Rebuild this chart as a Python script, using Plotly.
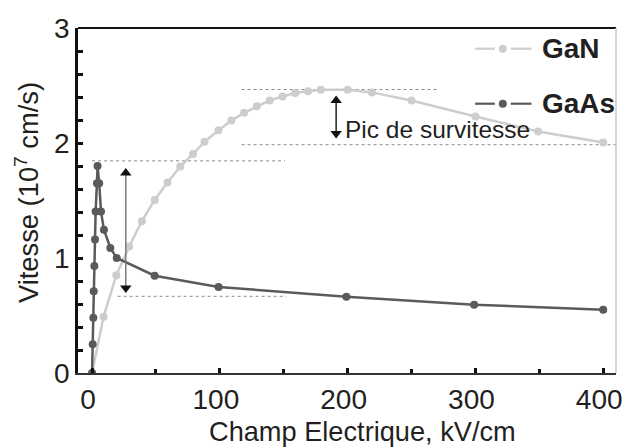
import plotly.graph_objects as go

# ---- data ----
gan_field = [0, 9, 19, 29, 39, 49, 59, 69, 79, 88, 99, 109, 119, 129, 139, 149,
             159, 169, 179, 200, 219, 250, 300, 349, 400]
gan_vel = [0, 0.49, 0.85, 1.10, 1.32, 1.505, 1.657, 1.795, 1.905, 2.01, 2.11, 2.195,
           2.263, 2.32, 2.37, 2.405, 2.435, 2.45, 2.463, 2.463, 2.44, 2.37, 2.23, 2.10, 2.005]

gaas_field = [0, 0.5, 1.0, 1.3, 1.8, 2.3, 2.8, 3.8, 4.3, 5.6, 7.0, 9.3, 14.3, 19.3,
              49, 99, 199, 299, 400]
gaas_vel = [0, 0.25, 0.48, 0.71, 0.93, 1.16, 1.405, 1.65, 1.80, 1.65, 1.405, 1.246,
            1.087, 1.0, 0.846, 0.748, 0.663, 0.594, 0.55]

# dotted reference lines: (x start, x end, y)
ref_x0 = [117, 117, 0, 20]
ref_x1 = [271, 410, 151, 152]
ref_y = [2.465, 1.985, 1.845, 0.667]

# double arrows: x, y low tip, y high tip
arrow_x = [26.4, 191]
arrow_ylo = [0.70, 2.043]
arrow_yhi = [1.78, 2.41]
arrow_line_col = ["#7a7a7a", "#222222"]
arrow_head_col = ["#111111", "#111111"]

x_ticks = [0, 100, 200, 300, 400]
y_ticks = [0, 1, 2, 3]

series_names = ["GaN", "GaAs"]
series_colors = ["#cdcdcd", "#5a5a5a"]

x_title = "Champ Electrique, kV/cm"
y_title = "Vitesse (10<sup>7</sup> cm/s)"
note_text = "Pic de survitesse"

FONT = "Liberation Sans, Arial, sans-serif"
TXT = "#231f20"
HEAD_OFF = 0.04  # half arrow-head height in data units

fig = go.Figure()

for x0, x1, y in zip(ref_x0, ref_x1, ref_y):
    fig.add_shape(type="line", x0=x0, x1=x1, y0=y, y1=y, xref="x", yref="y",
                  line=dict(color="#8a8a8a", width=1, dash="dot"), layer="below")

fig.add_trace(go.Scatter(x=gan_field, y=gan_vel, mode="lines+markers", name="GaN",
                         line=dict(color=series_colors[0], width=2.5),
                         marker=dict(color=series_colors[0], size=8),
                         showlegend=False))
fig.add_trace(go.Scatter(x=gaas_field, y=gaas_vel, mode="lines+markers", name="GaAs",
                         line=dict(color=series_colors[1], width=2.5),
                         marker=dict(color=series_colors[1], size=8),
                         showlegend=False))

for x, ylo, yhi, lc, hc in zip(arrow_x, arrow_ylo, arrow_yhi, arrow_line_col, arrow_head_col):
    fig.add_trace(go.Scatter(x=[x, x], y=[ylo + HEAD_OFF, yhi - HEAD_OFF], mode="lines",
                             line=dict(color=lc, width=1.5), showlegend=False,
                             hoverinfo="skip"))
    fig.add_trace(go.Scatter(x=[x, x], y=[ylo + HEAD_OFF, yhi - HEAD_OFF], mode="markers",
                             marker=dict(symbol=["triangle-down", "triangle-up"], size=10,
                                         color=hc, line=dict(width=0)),
                             showlegend=False, hoverinfo="skip"))

fig.add_annotation(x=196.5, y=2.115, xref="x", yref="y", text=note_text,
                   showarrow=False, xanchor="left", yanchor="middle",
                   font=dict(family=FONT, size=24.5, color=TXT))

# manual legend (paper coordinates)
PL, PR, PT, PB = 78.3, 622.5, 28.3, 373.3
def px2x(p):
    return (p - PL) / (PR - PL)
def py2y(p):
    return (PB - p) / (PB - PT)

leg_y = [49, 104]
for name, col, ly in zip(series_names, series_colors, leg_y):
    yy = py2y(ly)
    fig.add_shape(type="line", xref="paper", yref="paper", x0=px2x(480), x1=px2x(500),
                  y0=yy, y1=yy, line=dict(color=col, width=2.2))
    fig.add_shape(type="line", xref="paper", yref="paper", x0=px2x(516), x1=px2x(537),
                  y0=yy, y1=yy, line=dict(color=col, width=2.2))
    fig.add_shape(type="circle", xref="paper", yref="paper", xsizemode="pixel",
                  ysizemode="pixel", xanchor=px2x(508), yanchor=yy,
                  x0=-4, x1=4, y0=-4, y1=4, fillcolor=col, line=dict(color=col, width=0))
    fig.add_annotation(x=px2x(546), y=yy, xref="paper", yref="paper", text=f"<b>{name}</b>",
                       showarrow=False, xanchor="left", yanchor="middle",
                       font=dict(family=FONT, size=28, color=TXT))

# axis titles as annotations for exact placement
fig.add_annotation(x=px2x(366.5), y=py2y(432), xref="paper", yref="paper", text=x_title,
                   showarrow=False, xanchor="center", yanchor="middle",
                   font=dict(family=FONT, size=27.2, color=TXT))
fig.add_annotation(x=px2x(26), y=py2y(193), xref="paper", yref="paper", text=y_title,
                   showarrow=False, xanchor="center", yanchor="middle", textangle=-90,
                   font=dict(family=FONT, size=27.3, color=TXT))

fig.update_layout(
    width=629, height=448,
    margin=dict(l=78, r=7, t=28, b=75),
    plot_bgcolor="white", paper_bgcolor="white",
    font=dict(family=FONT, size=28, color=TXT),
    xaxis=dict(range=[-11, 410], tickvals=x_ticks, ticktext=[str(v) for v in x_ticks],
               showgrid=False, zeroline=False, showline=True, linecolor="#333333",
               linewidth=2, ticks="inside", ticklen=5, tickwidth=2.5, tickcolor="#111111",
               minor=dict(dtick=50, tick0=0, ticks="inside", ticklen=4, tickwidth=2.5,
                          tickcolor="#111111", showgrid=False),
               mirror=False, ticklabelshift=-4,
               tickfont=dict(size=28, color=TXT)),
    yaxis=dict(range=[0, 3], tickvals=y_ticks, showgrid=False, zeroline=False,
               showline=True, linecolor="#111111", linewidth=2.5,
               ticks="inside", ticklen=5, tickwidth=2.5, tickcolor="#111111",
               minor=dict(dtick=0.2, tick0=0, ticks="inside", ticklen=5, tickwidth=2.5,
                          tickcolor="#111111", showgrid=False),
               tickfont=dict(size=28, color=TXT)),
)

# top border (black) and right border (light gray)
fig.add_shape(type="line", xref="paper", yref="paper", x0=0, x1=1, y0=1, y1=1,
              line=dict(color="#111111", width=2))
fig.add_shape(type="line", xref="paper", yref="paper", x0=1, x1=1, y0=0, y1=1,
              line=dict(color="#c8c8c8", width=1.5))

fig.write_html("out.html")
